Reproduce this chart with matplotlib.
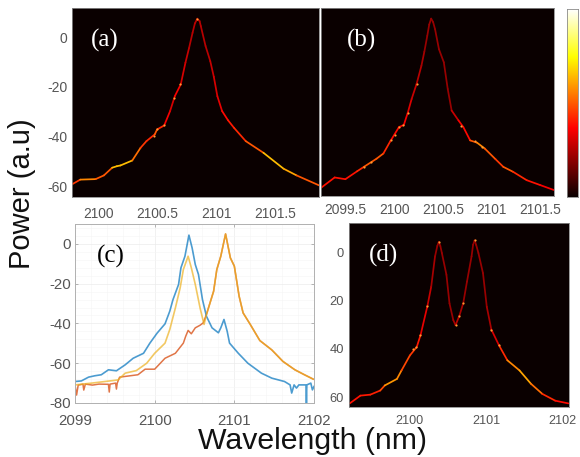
import numpy as np
import matplotlib
matplotlib.use('Agg')
import matplotlib.pyplot as plt
from matplotlib.collections import LineCollection

plt.rcParams['font.family'] = 'Liberation Sans'

W, H = 580, 457

# panel (a)
a_x = [2099.78, 2099.85, 2099.98, 2100.05, 2100.12, 2100.16, 2100.19, 2100.29, 2100.36, 2100.41, 2100.48,
       2100.50, 2100.56, 2100.61, 2100.65, 2100.70, 2100.74, 2100.77, 2100.80, 2100.82, 2100.84, 2100.86, 2100.87,
       2100.91, 2100.95, 2100.98, 2101.01, 2101.05, 2101.10, 2101.15, 2101.25, 2101.40, 2101.57, 2101.68, 2101.87]
a_y = [-59.3, -57.4, -57.2, -55.7, -52.6, -52.0, -51.7, -49.7, -44.6, -41.9, -39.2,
       -37.2, -35.6, -29.8, -23.8, -19.1, -10.3, -4.5, 1.7, 5.5, 7.4, 6.4, 4.4,
       -3.6, -9.7, -16.0, -23.8, -29.8, -33.5, -36.5, -41.9, -46.6, -53.0, -55.7, -59.7]
a_c = [0.38, 0.48, 0.42, 0.42, 0.55, 0.55, 0.55, 0.45, 0.38, 0.36, 0.42,
       0.36, 0.3, 0.26, 0.3, 0.26, 0.24, 0.22, 0.22, 0.22, 0.22, 0.22, 0.22,
       0.22, 0.24, 0.26, 0.28, 0.32, 0.34, 0.36, 0.42, 0.55, 0.52, 0.42, 0.36]
a_spot_x = [2100.84, 2100.50, 2100.56, 2100.47, 2100.64, 2100.69]
a_spot_y = [7.4, -37.2, -35.6, -39.9, -24.4, -19.1]

# panel (b)
b_x = [2099.25, 2099.39, 2099.50, 2099.62, 2099.69, 2099.82, 2099.89, 2099.96, 2100.05, 2100.10,
       2100.14, 2100.18, 2100.23, 2100.28, 2100.31, 2100.34, 2100.36, 2100.38, 2100.40, 2100.42, 2100.46, 2100.51, 2100.55,
       2100.59, 2100.66, 2100.71, 2100.78, 2100.85, 2100.93, 2101.04, 2101.12, 2101.22, 2101.36,
       2101.50, 2101.64]
b_y = [-61.1, -56.9, -57.6, -54.4, -52.6, -49.3, -47.2, -42.3, -36.5, -35.6,
       -30.7, -25.1, -19.1, -11.7, -6.0, 0.4, 5.0, 7.4, 6.0, 3.1, -5.0, -10.3, -21.1,
       -29.8, -33.8, -36.5, -41.9, -42.8, -45.2, -49.5, -52.6, -54.6, -58.0,
       -60.0, -62.0]
b_c = [0.33, 0.33, 0.33, 0.36, 0.42, 0.42, 0.36, 0.32, 0.3, 0.3,
       0.27, 0.24, 0.22, 0.2, 0.18, 0.18, 0.18, 0.18, 0.18, 0.18, 0.18, 0.18, 0.18,
       0.24, 0.3, 0.32, 0.42, 0.48, 0.42, 0.38, 0.42, 0.36, 0.33,
       0.3, 0.3]
b_spot_x = [2100.23, 2100.14, 2100.09, 2100.05, 2100.01, 2099.97, 2099.76, 2099.69, 2100.69, 2100.83, 2100.90]
b_spot_y = [-19.1, -30.7, -35.6, -36.5, -39.6, -41.9, -50.6, -52.6, -36.2, -42.3, -44.5]

# panel (c)
blue_x = [2099.00, 2099.08, 2099.17, 2099.25, 2099.33, 2099.42, 2099.52, 2099.63, 2099.73, 2099.86,
          2099.94, 2100.03, 2100.13, 2100.19, 2100.23, 2100.30, 2100.33, 2100.38, 2100.43, 2100.47,
          2100.51, 2100.55, 2100.60, 2100.65, 2100.72, 2100.80, 2100.83, 2100.87, 2100.91, 2100.94,
          2101.05, 2101.17, 2101.34, 2101.47, 2101.63, 2101.70, 2101.72, 2101.75, 2101.78, 2101.81,
          2101.90, 2101.905, 2101.91, 2101.96, 2101.98, 2102.00]
blue_y = [-69.2, -68.9, -67.0, -66.3, -65.8, -63.3, -63.8, -60.8, -57.5, -55.0,
          -49.9, -44.9, -40.2, -33.8, -28.0, -20.4, -12.0, -6.2, 4.4, -2.0,
          -10.4, -15.4, -28.0, -36.4, -42.2, -44.7, -42.2, -38.0, -43.9, -49.9,
          -55.0, -60.0, -65.0, -67.5, -69.2, -70.9, -75.0, -70.9, -72.5, -70.9,
          -70.9, -80.0, -70.9, -70.0, -73.4, -71.7]
red_x = [2099.00, 2099.02, 2099.04, 2099.10, 2099.11, 2099.13, 2099.22, 2099.30, 2099.42, 2099.43,
         2099.44, 2099.51, 2099.52, 2099.53, 2099.56, 2099.79, 2099.88, 2100.00, 2100.13, 2100.26,
         2100.36, 2100.39, 2100.42, 2100.46, 2100.51, 2100.57, 2100.61, 2100.65, 2100.74, 2100.78,
         2100.83, 2100.89, 2100.95, 2101.00, 2101.06, 2101.11, 2101.20, 2101.32, 2101.47, 2101.61,
         2101.76, 2101.88, 2101.99]
red_y = [-71.0, -76.0, -71.0, -70.5, -73.5, -70.5, -71.0, -70.5, -70.6, -74.5,
         -70.5, -70.0, -73.0, -70.0, -67.0, -65.8, -63.0, -63.0, -57.5, -55.0,
         -49.9, -46.4, -43.5, -45.2, -42.2, -40.9, -39.7, -35.5, -23.8, -12.9,
         -6.2, 5.0, -7.0, -11.2, -26.3, -34.7, -40.5, -48.6, -53.3, -59.1,
         -63.3, -65.8, -68.0]
yellow_x = [2099.00, 2099.21, 2099.54, 2099.63, 2099.77, 2099.90, 2100.00, 2100.13, 2100.19, 2100.26,
            2100.32, 2100.36, 2100.42, 2100.46, 2100.51, 2100.57, 2100.62, 2100.65, 2100.74, 2100.78,
            2100.83, 2100.89, 2100.95, 2101.00, 2101.06, 2101.11, 2101.20, 2101.32, 2101.47, 2101.61,
            2101.76, 2101.88, 2101.99]
yellow_y = [-70.9, -70.0, -68.4, -65.0, -63.7, -60.0, -55.0, -49.9, -43.0, -32.2,
            -22.1, -12.9, -6.2, -12.0, -20.4, -32.2, -40.5, -35.5, -23.8, -12.9,
            -6.2, 5.0, -7.0, -11.2, -26.3, -34.7, -40.5, -48.6, -53.3, -59.1,
            -63.3, -65.8, -68.0]

# panel (d), y axis runs downwards
d_x = [2099.21, 2099.35, 2099.48, 2099.61, 2099.67, 2099.83, 2099.89, 2100.00, 2100.09, 2100.14,
       2100.23, 2100.28, 2100.33, 2100.36, 2100.38, 2100.40, 2100.42, 2100.48, 2100.52, 2100.57, 2100.60, 2100.65,
       2100.70, 2100.75, 2100.81, 2100.83, 2100.85, 2100.87, 2100.90, 2100.96, 2101.01, 2101.07, 2101.17, 2101.28,
       2101.44, 2101.59, 2101.74, 2101.91, 2102.08]
d_y = [62.5, 59.3, 58.9, 57.2, 55.1, 52.4, 48.9, 42.7, 39.2, 34.3,
       22.3, 14.3, 1.8, -2.5, -4.2, -2.5, 0.4, 9.4, 21.2, 28.1, 30.2, 26.3,
       21.2, 12.2, 1.8, -3.0, -4.8, -3.0, 0.4, 8.7, 22.6, 32.0, 38.5, 44.7,
       48.9, 54.4, 58.6, 61.4, 62.5]
d_c = [0.33, 0.34, 0.35, 0.4, 0.5, 0.48, 0.4, 0.38, 0.34, 0.28,
       0.24, 0.2, 0.18, 0.18, 0.18, 0.18, 0.18, 0.18, 0.18, 0.2, 0.22, 0.2,
       0.18, 0.18, 0.18, 0.18, 0.18, 0.18, 0.18, 0.18, 0.2, 0.26, 0.36, 0.48,
       0.52, 0.45, 0.36, 0.32, 0.3]
d_spot_x = [2100.38, 2100.85, 2100.23, 2100.13, 2100.08, 2100.04, 2100.60, 2100.65, 2100.70, 2101.07, 2101.17]
d_spot_y = [-4.2, -4.8, 22.3, 34.3, 39.2, 40.2, 30.2, 26.3, 21.2, 32.0, 38.5]

GRAY = '#555555'
BLACK = '#0a0000'


def px_axes(fig, left, right, top, bottom):
    return fig.add_axes([left / W, 1 - bottom / H, (right - left) / W, (bottom - top) / H])


def hot_curve(ax, x, y, c, spot_x, spot_y):
    pts = np.column_stack([x, y])
    segs = np.stack([pts[:-1], pts[1:]], axis=1)
    lc = LineCollection(segs, cmap='hot', norm=plt.Normalize(0, 0.85), linewidths=1.25,
                        capstyle='round', joinstyle='round')
    lc.set_array(np.array(c[:-1]))
    ax.add_collection(lc)
    ax.scatter(spot_x, spot_y, s=2.5, color='#ff9a30', linewidths=0, zorder=3)


def dark_panel(ax, xlim, ylim, xticks, xlabels, yticks, ylabels, name, name_xy, xsize, ysize, xpad):
    ax.set_facecolor(BLACK)
    ax.set_xlim(*xlim)
    ax.set_ylim(*ylim)
    ax.set_xticks(xticks, xlabels)
    ax.set_yticks(yticks, ylabels)
    ax.tick_params(length=0, labelcolor=GRAY)
    ax.tick_params(axis='x', labelsize=xsize, pad=xpad)
    ax.tick_params(axis='y', labelsize=ysize, pad=3.5)
    for s in ax.spines.values():
        s.set_color('#8a8a8a')
        s.set_linewidth(0.6)
    ax.figure.text(name_xy[0] / W, 1 - name_xy[1] / H, name, color='white', family='Liberation Serif',
                   fontsize=18, ha='center', va='center')


fig = plt.figure(figsize=(W / 100, H / 100), dpi=100)

ax_a = px_axes(fig, 72, 319, 8, 197)
hot_curve(ax_a, a_x, a_y, a_c, a_spot_x, a_spot_y)
dark_panel(ax_a, (2099.78, 2101.87), (-64.4, 11.7),
           [2100, 2100.5, 2101, 2101.5], ['2100', '2100.5', '2101', '2101.5'],
           [-60, -40, -20, 0], ['-60', '-40', '-20', '0'], '(a)', (105, 40), 9.9, 10, 7)

ax_b = px_axes(fig, 321, 554, 8, 196)
hot_curve(ax_b, b_x, b_y, b_c, b_spot_x, b_spot_y)
dark_panel(ax_b, (2099.25, 2101.64), (-64.4, 11.7),
           [2099.5, 2100, 2100.5, 2101, 2101.5], ['2099.5', '2100', '2100.5', '2101', '2101.5'],
           [], [], '(b)', (362, 40), 9.9, 10, 5)

ax_d = px_axes(fig, 349, 569, 223, 407)
hot_curve(ax_d, d_x, d_y, d_c, d_spot_x, d_spot_y)
dark_panel(ax_d, (2099.2, 2102.09), (64, -12),
           [2100, 2101, 2102], ['2100', '2101', '2102'],
           [0, 20, 40, 60], ['0', '20', '40', '60'], '(d)', (383, 255), 9.1, 9.3, 6)

# colorbar
ax_cb = px_axes(fig, 567, 578, 9, 197)
ax_cb.imshow(np.linspace(1, 0, 256)[:, None], cmap='hot', aspect='auto', vmin=0, vmax=1)
ax_cb.set_xticks([])
ax_cb.set_yticks([])
for s in ax_cb.spines.values():
    s.set_color('#8a8a8a')
    s.set_linewidth(0.6)

# panel (c)
ax_c = px_axes(fig, 75, 314, 224, 403)
ax_c.plot(red_x, red_y, color='#D95319', lw=1.1, alpha=0.8)
ax_c.plot(blue_x, blue_y, color='#0072BD', lw=1.2, alpha=0.7)
ax_c.plot(yellow_x, yellow_y, color='#EDB120', lw=1.2, alpha=0.7)
ax_c.set_xlim(2099, 2102)
ax_c.set_ylim(-80, 10)
ax_c.set_xticks([2099, 2100, 2101, 2102], ['2099', '2100', '2101', '2102'])
ax_c.set_yticks([-80, -60, -40, -20, 0], ['-80', '-60', '-40', '-20', '0'])
ax_c.set_xticks(np.arange(2099, 2102.01, 0.2), minor=True)
ax_c.set_yticks(np.arange(-80, 10.1, 4), minor=True)
ax_c.grid(which='major', color='#ebebeb', lw=0.5)
ax_c.grid(which='minor', color='#f5f5f5', lw=0.4)
ax_c.tick_params(which='minor', length=0)
ax_c.tick_params(which='major', direction='in', length=2, width=0.5, color='#999999', top=True, right=True)
ax_c.tick_params(axis='x', labelsize=10.8, labelcolor=GRAY, pad=8)
ax_c.tick_params(axis='y', labelsize=10.8, labelcolor=GRAY, pad=3)
ax_c.set_axisbelow(True)
for s in ax_c.spines.values():
    s.set_color('#b0b0b0')
    s.set_linewidth(0.7)
fig.text(111 / W, 1 - 256 / H, '(c)', color='black', family='Liberation Serif', fontsize=18,
         ha='center', va='center')

fig.text(22 / W, 1 - 194 / H, 'Power (a.u)', rotation=90, color='#111111',
         fontsize=21, ha='center', va='center')
fig.text(312 / W, 1 - 441 / H, 'Wavelength (nm)', color='#111111',
         fontsize=21.8, ha='center', va='center')

fig.savefig('out.png', dpi=100)
